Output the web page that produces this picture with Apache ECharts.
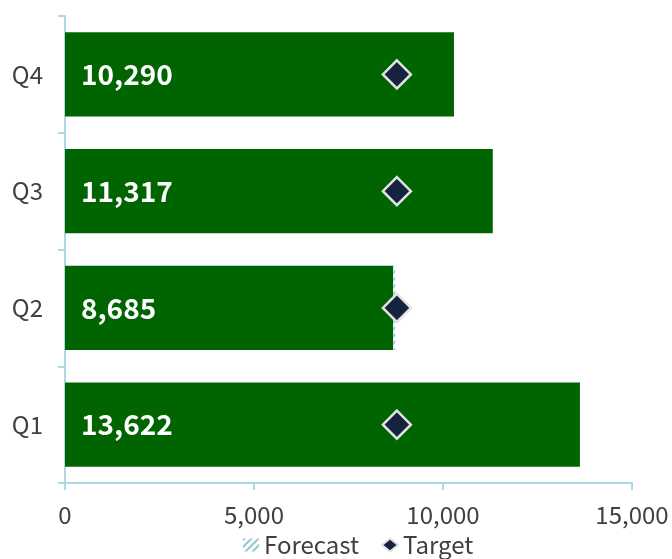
<!DOCTYPE html>
<html>
<head>
<meta charset="utf-8">
<script src="https://cdn.jsdelivr.net/npm/echarts@6/dist/echarts.min.js"></script>
<style>
  html, body { margin: 0; padding: 0; background: #fff; }
  #chart { width: 672px; height: 559px; }
</style>
</head>
<body>
<div id="chart"></div>
<script>
// Quarterly actuals, forecast remainder and target
const quarters = ['Q1', 'Q2', 'Q3', 'Q4'];
const actualValues = [13622, 8685, 11317, 10290];
const forecastValues = [0, 50, 0, 0];
const targetValues = [8780, 8780, 8780, 8780];
const xTicks = [0, 5000, 10000, 15000];

const FONT = '"Noto Sans CJK KR", "Noto Sans", sans-serif';
const AXIS_BLUE = '#add8e6';
const TEXT = '#404040';

const chart = echarts.init(document.getElementById('chart'), null, { renderer: 'canvas' });

chart.setOption({
  animation: false,
  textStyle: { fontFamily: FONT },
  grid: { left: 65, right: 40, top: 16, bottom: 76, containLabel: false },
  legend: {
    bottom: -3,
    left: 238,
    itemWidth: 16,
    itemHeight: 13,
    itemGap: 22,
    textStyle: { fontSize: 24, color: TEXT, fontFamily: FONT },
    data: [
      { name: 'Forecast', icon: 'rect' },
      { name: 'Target', icon: 'diamond' }
    ]
  },
  xAxis: {
    type: 'value',
    min: xTicks[0],
    max: xTicks[xTicks.length - 1],
    interval: xTicks[1] - xTicks[0],
    axisLine: { show: true, lineStyle: { color: AXIS_BLUE, width: 2 } },
    axisTick: { show: true, length: 7, lineStyle: { color: AXIS_BLUE, width: 2 } },
    splitLine: { show: false },
    axisLabel: {
      fontSize: 24, color: TEXT, margin: 20, fontFamily: FONT,
      formatter: v => v.toLocaleString('en-US')
    }
  },
  yAxis: {
    type: 'category',
    data: quarters,
    axisLine: { show: true, lineStyle: { color: AXIS_BLUE, width: 2 } },
    axisTick: { show: true, length: 7, lineStyle: { color: AXIS_BLUE, width: 2 } },
    axisLabel: { fontSize: 24, color: TEXT, margin: 22, fontFamily: FONT }
  },
  series: [
    {
      name: 'Actual',
      type: 'bar',
      stack: 'total',
      data: actualValues,
      barWidth: '72%',
      silent: true,
      itemStyle: { color: '#006400' },
      label: {
        show: true,
        position: 'insideLeft',
        distance: 16,
        color: '#ffffff',
        fontSize: 28,
        fontWeight: 'bold',
        fontFamily: FONT,
        formatter: p => p.value.toLocaleString('en-US')
      }
    },
    {
      name: 'Forecast',
      type: 'bar',
      stack: 'total',
      data: forecastValues,
      barWidth: '72%',
      silent: true,
      itemStyle: {
        color: '#ffffff',
        decal: {
          symbol: 'rect',
          color: '#8cc4d8',
          dashArrayX: [1, 0],
          dashArrayY: [2, 3],
          rotation: -Math.PI / 4
        }
      }
    },
    {
      name: 'Target',
      type: 'scatter',
      data: targetValues.map((v, i) => [v, quarters[i]]),
      symbol: 'diamond',
      symbolSize: 28,
      z: 5,
      silent: true,
      emphasis: { disabled: true },
      itemStyle: { color: '#16233f', borderColor: '#e2e2e2', borderWidth: 2.5, opacity: 1 }
    }
  ]
});
</script>
</body>
</html>
